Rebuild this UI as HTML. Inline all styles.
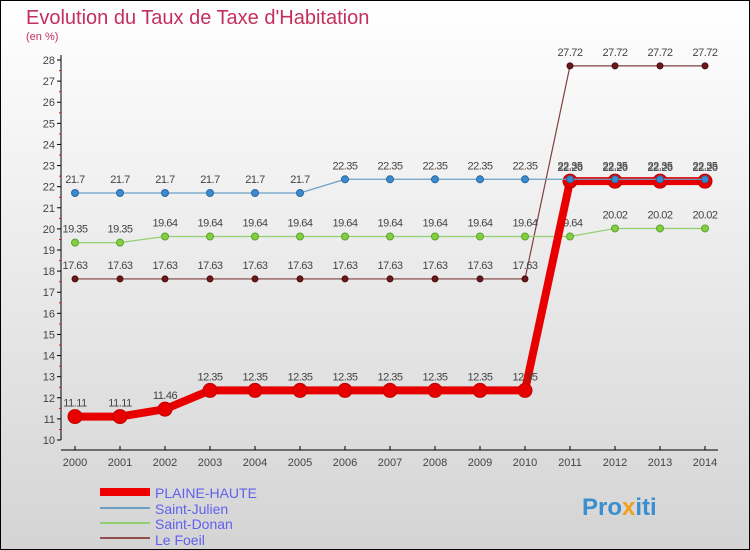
<!DOCTYPE html>
<html><head><meta charset="utf-8"><style>
body{margin:0;width:750px;height:550px;overflow:hidden;font-family:"Liberation Sans",sans-serif}
svg{display:block}
</style></head><body>
<svg width="750" height="550">
<defs><linearGradient id="bg" x1="0" y1="0" x2="0" y2="1"><stop offset="0" stop-color="#ffffff"/><stop offset="1" stop-color="#d4d4d4"/></linearGradient></defs>
<rect x="0.5" y="0.5" width="749" height="549" fill="url(#bg)" stroke="#000"/>
<text x="26" y="24" font-size="20" fill="#c4305e">Evolution du Taux de Taxe d'Habitation</text>
<text x="26" y="40" font-size="11" fill="#c4305e">(en %)</text>
<g id="axes"></g><g id="series"></g>
<g>
<rect x="100" y="488" width="50" height="8" fill="#e00"/>
<text x="155" y="498" font-size="14" fill="#6060ee">PLAINE-HAUTE</text>
<line x1="100" y1="508" x2="150" y2="508" stroke="#6aa0c8" stroke-width="2"/>
<text x="155" y="514" font-size="14" fill="#6060ee">Saint-Julien</text>
<line x1="100" y1="523" x2="150" y2="523" stroke="#90d070" stroke-width="2"/>
<text x="155" y="529" font-size="14" fill="#6060ee">Saint-Donan</text>
<line x1="100" y1="538" x2="150" y2="538" stroke="#905050" stroke-width="2"/>
<text x="155" y="545" font-size="14" fill="#6060ee">Le Foeil</text>
</g>
<text x="582" y="515" font-size="24" font-weight="bold" fill="#3a8fd0">Pro<tspan fill="#f0a020">x</tspan>iti</text>
</svg>
<script>
const years=[2000,2001,2002,2003,2004,2005,2006,2007,2008,2009,2010,2011,2012,2013,2014];
const plaineHaute=[11.11,11.11,11.46,12.35,12.35,12.35,12.35,12.35,12.35,12.35,12.35,22.26,22.26,22.26,22.26];
const saintJulien=[21.7,21.7,21.7,21.7,21.7,21.7,22.35,22.35,22.35,22.35,22.35,22.35,22.35,22.35,22.35];
const saintDonan=[19.35,19.35,19.64,19.64,19.64,19.64,19.64,19.64,19.64,19.64,19.64,19.64,20.02,20.02,20.02];
const leFoeil=[17.63,17.63,17.63,17.63,17.63,17.63,17.63,17.63,17.63,17.63,17.63,27.72,27.72,27.72,27.72];
const yTicks=[10,11,12,13,14,15,16,17,18,19,20,21,22,23,24,25,26,27,28];
const NS="http://www.w3.org/2000/svg";
const xs=i=>75+i*45, ys=v=>440-(v-10)*(380/18);
function mk(p,t,a){const e=document.createElementNS(NS,t);for(const k in a)e.setAttribute(k,a[k]);p.appendChild(e);return e;}
const ax=document.getElementById('axes'), sg=document.getElementById('series');
let l=mk(ax,'line',{x1:61,y1:55,x2:61,y2:440,stroke:'#000'});


l=mk(ax,'line',{x1:61,y1:450,x2:718,y2:450,stroke:'#000'});


yTicks.forEach(v=>{const y=ys(v);mk(ax,'line',{x1:57,y1:y,x2:61,y2:y,stroke:'#000'});
 if(v<28)mk(ax,'line',{x1:59,y1:y-10.5,x2:61,y2:y-10.5,stroke:'#f00'});
 const t=mk(ax,'text',{x:55,y:y+4,'font-size':11,fill:'#444','text-anchor':'end'});t.textContent=v;
 
 });
years.forEach((yr,i)=>{const x=xs(i);mk(ax,'line',{x1:x,y1:446,x2:x,y2:450,stroke:'#000'});
 const t=mk(ax,'text',{x:x,y:466,'font-size':11,fill:'#444','text-anchor':'middle'});t.textContent=yr;
 
 });
function series(vals,name,color,w,r,dot,dotStroke){
 const g=mk(sg,'g',{});
 
 
 mk(g,'polyline',{points:vals.map((v,i)=>xs(i)+','+ys(v)).join(' '),fill:'none',stroke:color,'stroke-width':w});
 vals.forEach((v,i)=>{const c=mk(g,'circle',{cx:xs(i),cy:ys(v),r:r,fill:dot,stroke:dotStroke,'stroke-width':1});
  
  
  const t=mk(g,'text',{x:xs(i),y:ys(v)-10,'font-size':11,fill:'#444','text-anchor':'middle','letter-spacing':'-0.5'});
  t.textContent=String(v);
  
  });
}
series(leFoeil,'le-foeil','#804040',1.2,3,'#6a1a1a','#4a0a0a');
series(saintDonan,'saint-donan','#90d070',1.2,3.5,'#80d040','#60a030');
series(plaineHaute,'plaine-haute','#e80000',8,7,'#e80000','#c00000');
series(saintJulien,'saint-julien','#6aa0c8',1.2,3.5,'#3a8ad0','#2a6aa0');
</script>
</body></html>
